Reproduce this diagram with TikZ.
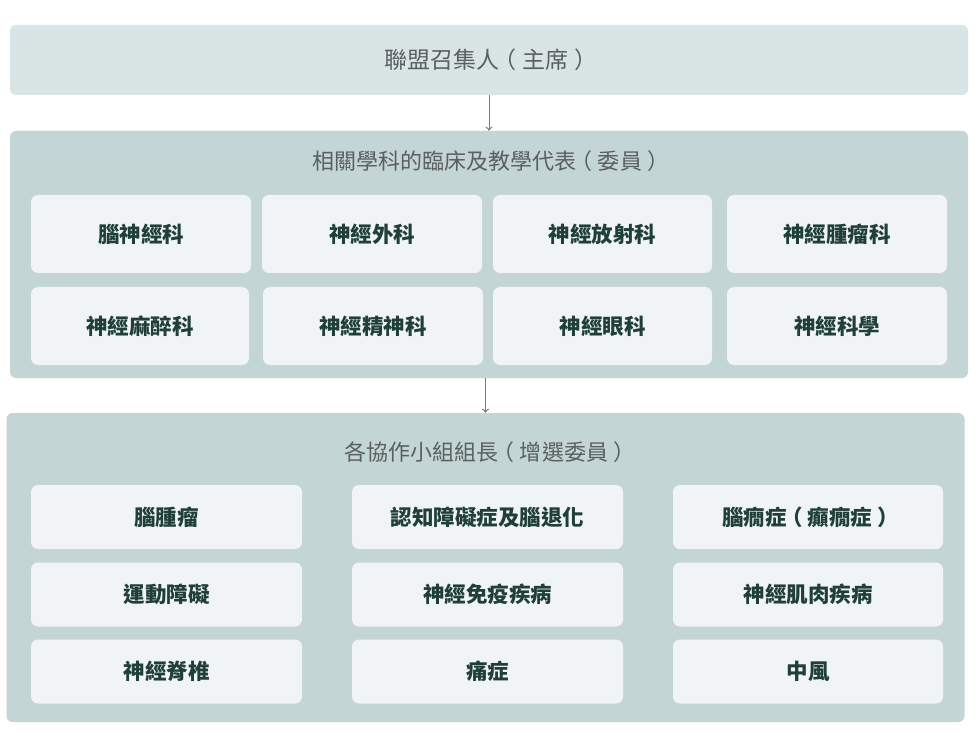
\documentclass[tikz,border=0pt]{standalone}
\usepackage{fontspec}
\setmainfont{Noto Sans CJK TC}
\usetikzlibrary{arrows.meta}
\definecolor{topfill}{HTML}{D9E4E4}
\definecolor{grpfill}{HTML}{C3D5D5}
\definecolor{cellfill}{HTML}{F1F4F6}
\definecolor{celltext}{HTML}{1F3F38}
\definecolor{titletext}{HTML}{5A5F5F}
\definecolor{arrowcol}{HTML}{7A7A7A}
% full-width parentheses with the glyph centred in its em
\newcommand{\fwlp}{\makebox[1em][l]{\kern-0.24em （}}
\newcommand{\fwrp}{\makebox[1em][r]{）\kern-0.24em}}
\begin{document}
\begin{tikzpicture}[x=1pt,y=-1pt,
  panel/.style={rounded corners=6pt, inner sep=0pt, anchor=center},
  cell/.style={fill=cellfill, rounded corners=7pt, inner sep=0pt, anchor=center,
    text=celltext, font=\fontsize{21.5pt}{24pt}\selectfont\bfseries},
  ttl/.style={text=titletext, font=\fontsize{22pt}{24pt}\selectfont, inner sep=0pt, anchor=center},
  arr/.style={draw=arrowcol, line width=1pt, -{To[length=4pt,width=7pt]}}
]
\useasboundingbox (0,0) rectangle (980,735);
\fill[white] (0,0) rectangle (980,735);

% top box
\node[panel, fill=topfill, minimum width=958pt, minimum height=70pt] (top) at (489,60) {};
\node[ttl, font=\fontsize{23pt}{24pt}\selectfont] (toptitle) at (488,60) {聯盟召集人\fwlp 主席\fwrp};

% middle group
\node[panel, fill=grpfill, minimum width=958pt, minimum height=247pt] (mid) at (489,254.5) {};
\node[ttl] (midtitle) at (488,161) {相關學科的臨床及教學代表\fwlp 委員\fwrp};

\node[cell, minimum width=220pt, minimum height=78pt] (m1) at (141,234) {腦神經科};
\node[cell, minimum width=220pt, minimum height=78pt] (m2) at (372,234) {神經外科};
\node[cell, minimum width=219pt, minimum height=78pt] (m3) at (602.5,234) {神經放射科};
\node[cell, minimum width=220pt, minimum height=78pt] (m4) at (837,234) {神經腫瘤科};
\node[cell, minimum width=218pt, minimum height=78pt] (m5) at (140,326) {神經麻醉科};
\node[cell, minimum width=220pt, minimum height=78pt] (m6) at (373,326) {神經精神科};
\node[cell, minimum width=219pt, minimum height=78pt] (m7) at (602.5,326) {神經眼科};
\node[cell, minimum width=220pt, minimum height=78pt] (m8) at (837,326) {神經科學};

% bottom group
\node[panel, fill=grpfill, minimum width=958pt, minimum height=309pt] (bot) at (485.5,567.5) {};
\node[ttl] (bottitle) at (487,452) {各協作小組組長\fwlp 增選委員\fwrp};

\node[cell, minimum width=271pt, minimum height=64pt] (b1) at (166.5,517) {腦腫瘤};
\node[cell, minimum width=271pt, minimum height=64pt] (b2) at (487.5,517) {認知障礙症及腦退化};
\node[cell, minimum width=270pt, minimum height=64pt] (b3) at (808,517) {腦癇症\fwlp 癲癇症\fwrp};
\node[cell, minimum width=271pt, minimum height=64pt] (b4) at (166.5,594.5) {運動障礙};
\node[cell, minimum width=271pt, minimum height=64pt] (b5) at (487.5,594.5) {神經免疫疾病};
\node[cell, minimum width=270pt, minimum height=64pt] (b6) at (808,594.5) {神經肌肉疾病};
\node[cell, minimum width=271pt, minimum height=64pt] (b7) at (166.5,671.5) {神經脊椎};
\node[cell, minimum width=271pt, minimum height=64pt] (b8) at (487.5,671.5) {痛症};
\node[cell, minimum width=270pt, minimum height=64pt] (b9) at (808,671.5) {中風};

% connectors
\draw[arr] (top.south) -- (mid.north);
\draw[arr] (mid.south -| bot.north) -- (bot.north);
\end{tikzpicture}
\end{document}
